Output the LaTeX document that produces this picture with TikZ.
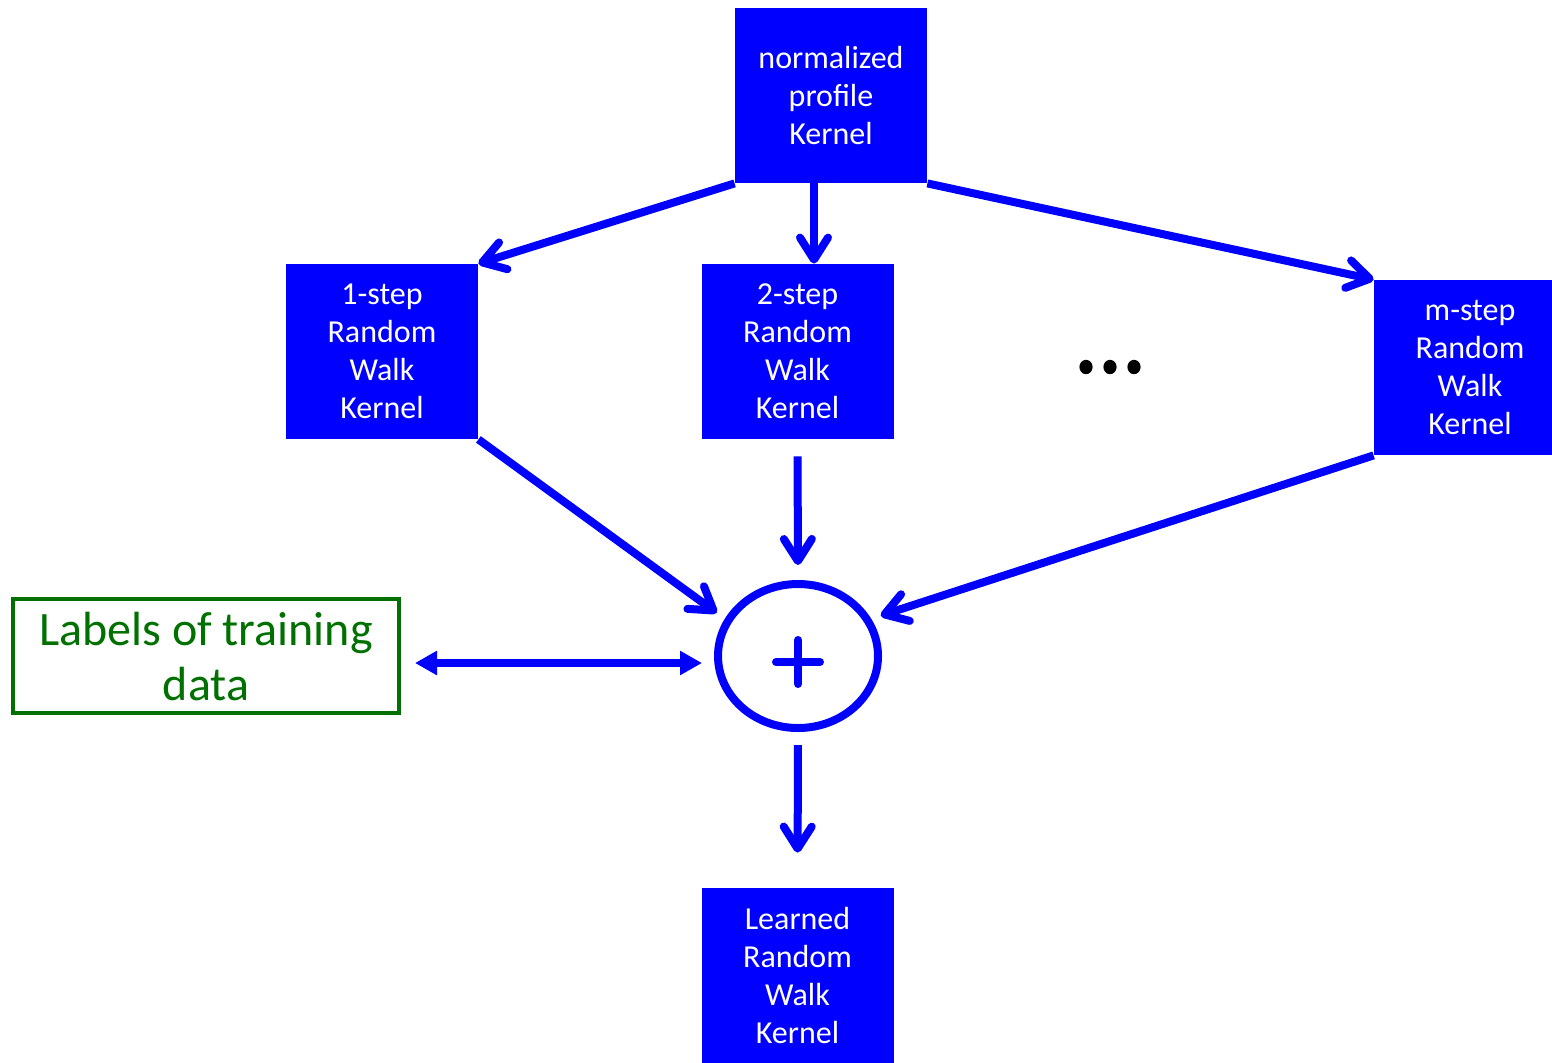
\documentclass[tikz,border=0pt]{standalone}
\usepackage{fontspec}
\setmainfont{Carlito}
\usepackage{tikz}
\usetikzlibrary{shapes.geometric,arrows.meta}
\definecolor{kblue}{RGB}{0,0,255}
\definecolor{kgreen}{RGB}{0,112,0}

\begin{document}
\begin{tikzpicture}[
    x=0.5pt, y=-0.5pt,
    kernel/.style={rectangle, fill=kblue, text=white, inner sep=0pt,
                   minimum width=96pt, minimum height=87.5pt, align=center,
                   font=\fontsize{16}{19}\selectfont},
    sumnode/.style={ellipse, draw=kblue, line width=4pt, inner sep=0pt,
                    minimum width=80pt, minimum height=72pt},
    labelbox/.style={rectangle, draw=kgreen, line width=2pt, text=kgreen, inner sep=0pt,
                     minimum width=193pt, minimum height=57pt, align=center,
                     font=\fontsize{24}{27.5}\selectfont},
    arrow/.style={-{Straight Barb[length=11pt,width=14pt,round]}, line width=4pt, draw=kblue},
    both/.style={{Triangle[length=11pt,width=11.5pt]}-{Triangle[length=11pt,width=11.5pt]},
                 line width=4pt, draw=kblue},
    sign/.style={line width=4pt, draw=kblue, line cap=round}
]
\useasboundingbox (0,0) rectangle (1552,1062);

% Kernels
\node[kernel] (top) at (831,95.5) {normalized\\profile\\Kernel};
\node[kernel] (s1) at (382,351.5) {1-step\\Random\\Walk\\Kernel};
\node[kernel] (s2) at (797.5,351.5) {2-step\\Random\\Walk\\Kernel};
\node[kernel] (sm) at (1470,367.5) {m-step\\Random\\Walk\\Kernel};

% Dots between the kernels
\foreach \dx in {-24,0,24}
    \fill (1110+\dx,367) ellipse (3.3pt and 3.6pt);

% Combination and result
\node[sumnode] (sum) at (798,656) {};
\draw[sign] ([shift={(-22,6)}]sum.center) -- ([shift={(22,6)}]sum.center);
\draw[sign] ([shift={(0,-16)}]sum.center) -- ([shift={(0,28)}]sum.center);
\node[labelbox] (lab) at (206,656) {Labels of training\\data};
\node[kernel] (learned) at (797.5,975.5) {Learned\\Random\\Walk\\Kernel};

% Arrows
\draw[arrow] (top.south west) -- (s1.north east);
\draw[arrow] ([xshift=-8.5pt]top.south) -- ([xshift=8.25pt]s2.north);
\draw[arrow] (top.south east) -- (sm.north west);
\draw[arrow, shorten >=5pt] (s1.south east) -- (sum.153);
\draw[arrow, shorten <=8.5pt, shorten >=7.5pt] (s2.south) -- (sum.north);
\draw[arrow, shorten >=5pt] (sm.south west) -- (sum.27);
\draw[both, shorten <=7pt, shorten >=6pt] ([yshift=-3.5pt]lab.east) -- ([yshift=-3.5pt]sum.west);
\draw[arrow, shorten <=6.5pt, shorten >=17.5pt] (sum.south) -- (learned.north);

\end{tikzpicture}
\end{document}
